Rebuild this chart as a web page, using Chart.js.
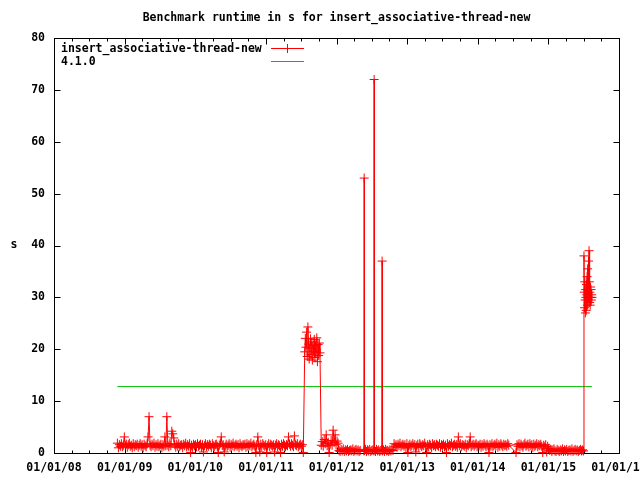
<!DOCTYPE html>
<html>
<head>
<meta charset="utf-8">
<script src="https://cdn.jsdelivr.net/npm/chart.js@4/dist/chart.umd.min.js"></script>
<style>
  html, body { margin: 0; padding: 0; background: #fff; }
</style>
</head>
<body>
<canvas id="chart" width="640" height="480"></canvas>
<script>
// run dates as fractional years, runtimes in s
const runDates = [
  // late 2008 - mid 2011
  2008.898, 2008.912, 2008.926, 2008.940, 2008.954, 2008.968, 2008.982, 2008.996, 2009.010, 2009.024,
  2009.038, 2009.052, 2009.066, 2009.080, 2009.094, 2009.108, 2009.122, 2009.136, 2009.150, 2009.164,
  2009.178, 2009.192, 2009.206, 2009.220, 2009.234, 2009.248, 2009.262, 2009.276, 2009.290, 2009.304,
  2009.318, 2009.332, 2009.346, 2009.360, 2009.374, 2009.388, 2009.402, 2009.416, 2009.430, 2009.444,
  2009.458, 2009.472, 2009.486, 2009.500, 2009.514, 2009.528, 2009.542, 2009.556, 2009.570, 2009.584,
  2009.598, 2009.612, 2009.626, 2009.640, 2009.654, 2009.668, 2009.682, 2009.696, 2009.710, 2009.724,
  2009.738, 2009.752, 2009.766, 2009.780, 2009.794, 2009.808, 2009.822, 2009.836, 2009.850, 2009.864,
  2009.878, 2009.892, 2009.906, 2009.920, 2009.934, 2009.948, 2009.962, 2009.976, 2009.990, 2010.004,
  2010.018, 2010.032, 2010.046, 2010.060, 2010.074, 2010.088, 2010.102, 2010.116, 2010.130, 2010.144,
  2010.158, 2010.172, 2010.186, 2010.200, 2010.214, 2010.228, 2010.242, 2010.256, 2010.270, 2010.284,
  2010.298, 2010.312, 2010.326, 2010.340, 2010.354, 2010.368, 2010.382, 2010.396, 2010.410, 2010.424,
  2010.438, 2010.452, 2010.466, 2010.480, 2010.494, 2010.508, 2010.522, 2010.536, 2010.550, 2010.564,
  2010.578, 2010.592, 2010.606, 2010.620, 2010.634, 2010.648, 2010.662, 2010.676, 2010.690, 2010.704,
  2010.718, 2010.732, 2010.746, 2010.760, 2010.774, 2010.788, 2010.802, 2010.816, 2010.830, 2010.844,
  2010.858, 2010.872, 2010.886, 2010.900, 2010.914, 2010.928, 2010.942, 2010.956, 2010.970, 2010.984,
  2010.998, 2011.012, 2011.026, 2011.040, 2011.054, 2011.068, 2011.082, 2011.096, 2011.110, 2011.124,
  2011.138, 2011.152, 2011.166, 2011.180, 2011.194, 2011.208, 2011.222, 2011.236, 2011.250, 2011.264,
  2011.278, 2011.292, 2011.306, 2011.320, 2011.334, 2011.348, 2011.362, 2011.376, 2011.390, 2011.404,
  2011.418, 2011.432, 2011.446, 2011.460, 2011.474, 2011.488, 2011.502, 2011.516, 2011.530,
  // slow period 2011
  2011.550, 2011.559, 2011.568, 2011.577, 2011.586, 2011.595, 2011.604, 2011.613, 2011.622, 2011.631,
  2011.640, 2011.649, 2011.658, 2011.667, 2011.676, 2011.685, 2011.694, 2011.703, 2011.712, 2011.721,
  2011.730, 2011.739, 2011.748, 2011.757, 2011.766,
  // late 2011
  2011.784, 2011.798, 2011.812, 2011.826, 2011.840, 2011.854, 2011.868, 2011.882, 2011.896, 2011.910,
  2011.924, 2011.938, 2011.952, 2011.966, 2011.980, 2011.994, 2012.008, 2012.022,
  // 2012 fast period with outliers
  2012.036, 2012.051, 2012.066, 2012.081, 2012.096, 2012.111, 2012.126, 2012.141, 2012.156, 2012.171,
  2012.186, 2012.201, 2012.216, 2012.231, 2012.246, 2012.261, 2012.276, 2012.291, 2012.306, 2012.321,
  2012.336,
  2012.388, 2012.392, 2012.396, 2012.410, 2012.425, 2012.440, 2012.455, 2012.470, 2012.485, 2012.500,
  2012.515, 2012.529, 2012.533, 2012.537, 2012.552, 2012.567, 2012.582, 2012.597, 2012.612, 2012.627,
  2012.642, 2012.646, 2012.650, 2012.665, 2012.680, 2012.695, 2012.710, 2012.725, 2012.740, 2012.755,
  2012.770, 2012.785, 2012.800,
  // late 2012 - mid 2014
  2012.815, 2012.829, 2012.843, 2012.857, 2012.871, 2012.885, 2012.899, 2012.913, 2012.927, 2012.941,
  2012.955, 2012.969, 2012.983, 2012.997, 2013.011, 2013.025, 2013.039, 2013.053, 2013.067, 2013.081,
  2013.095, 2013.109, 2013.123, 2013.137, 2013.151, 2013.165, 2013.179, 2013.193, 2013.207, 2013.221,
  2013.235, 2013.249, 2013.263, 2013.277, 2013.291, 2013.305, 2013.319, 2013.333, 2013.347, 2013.361,
  2013.375, 2013.389, 2013.403, 2013.417, 2013.431, 2013.445, 2013.459, 2013.473, 2013.487, 2013.501,
  2013.515, 2013.529, 2013.543, 2013.557, 2013.571, 2013.585, 2013.599, 2013.613, 2013.627, 2013.641,
  2013.655, 2013.669, 2013.683, 2013.697, 2013.711, 2013.725, 2013.739, 2013.753, 2013.767, 2013.781,
  2013.795, 2013.809, 2013.823, 2013.837, 2013.851, 2013.865, 2013.879, 2013.893, 2013.907, 2013.921,
  2013.935, 2013.949, 2013.963, 2013.977, 2013.991, 2014.005, 2014.019, 2014.033, 2014.047, 2014.061,
  2014.075, 2014.089, 2014.103, 2014.117, 2014.131, 2014.145, 2014.159, 2014.173, 2014.187, 2014.201,
  2014.215, 2014.229, 2014.243, 2014.257, 2014.271, 2014.285, 2014.299, 2014.313, 2014.327, 2014.341,
  2014.355, 2014.369, 2014.383, 2014.397, 2014.411, 2014.425, 2014.439,
  // late 2014
  2014.542, 2014.556, 2014.570, 2014.584, 2014.598, 2014.612, 2014.626, 2014.640, 2014.654, 2014.668,
  2014.682, 2014.696, 2014.710, 2014.724, 2014.738, 2014.752, 2014.766, 2014.780, 2014.794, 2014.808,
  2014.822, 2014.836, 2014.850, 2014.864, 2014.878, 2014.892, 2014.906, 2014.920, 2014.934, 2014.948,
  2014.962, 2014.976, 2014.990,
  // 2015 fast period
  2015.004, 2015.019, 2015.034, 2015.049, 2015.064, 2015.079, 2015.094, 2015.109, 2015.124, 2015.139,
  2015.154, 2015.169, 2015.184, 2015.199, 2015.214, 2015.229, 2015.244, 2015.259, 2015.274, 2015.289,
  2015.304, 2015.319, 2015.334, 2015.349, 2015.364, 2015.379, 2015.394, 2015.409, 2015.424, 2015.439,
  2015.454, 2015.469, 2015.484, 2015.498,
  // slow period 2015
  2015.504, 2015.508, 2015.512, 2015.516, 2015.520, 2015.524, 2015.528, 2015.532, 2015.536, 2015.540,
  2015.544, 2015.548, 2015.552, 2015.556, 2015.560, 2015.564, 2015.568, 2015.572, 2015.576, 2015.580,
  2015.584, 2015.588, 2015.592, 2015.596, 2015.600, 2015.604, 2015.608, 2015.612, 2015.617
];
const runValues = [
  1.9, 1.0, 1.6, 1.3, 1.8, 1.2, 1.5, 3.1, 1.4, 1.7,
  1.1, 1.6, 1.9, 1.3, 1.5, 1.0, 1.8, 1.2, 1.6, 1.4,
  1.7, 1.1, 1.5, 1.8, 1.3, 1.6, 1.0, 1.7, 1.4, 1.2,
  1.8, 3.1, 7.0, 1.5, 1.2, 1.7, 1.4, 1.9, 1.1, 1.6,
  1.3, 1.8, 1.2, 1.5, 1.7, 1.0, 1.6, 1.3, 3.1, 1.4,
  7.0, 1.5, 1.2, 1.8, 1.4, 4.2, 3.7, 2.9, 1.6, 1.1,
  1.7, 1.3, 1.8, 1.2, 1.5, 1.6, 1.0, 1.7, 1.4, 1.9,
  1.2, 1.6, 1.3, 1.8, 0.1, 1.5, 1.1, 1.7, 1.4, 1.6,
  1.2, 1.8, 1.3, 1.5, 1.7, 1.1, 1.6, 0.2, 1.4, 1.8,
  1.2, 1.6, 1.3, 1.7, 1.5, 1.0, 1.8, 1.4, 1.2, 1.6,
  1.7, 1.3, 0.1, 1.5, 1.8, 3.1, 1.4, 1.6, 0.2, 1.3,
  1.7, 1.2, 1.5, 1.8, 1.1, 1.6, 1.4, 1.9, 1.2, 1.5,
  1.7, 1.3, 1.6, 1.0, 1.8, 1.4, 1.2, 1.6, 1.5, 1.7,
  1.1, 1.8, 1.3, 1.6, 1.4, 1.9, 1.2, 1.5, 1.7, 1.3,
  0.1, 1.6, 3.1, 1.4, 0.2, 1.7, 1.2, 1.8, 1.5, 1.3,
  1.6, 0.1, 1.4, 1.8, 1.2, 1.7, 1.5, 1.3, 1.6, 0.2,
  1.5, 1.8, 1.2, 1.6, 1.4, 0.1, 1.7, 1.3, 1.8, 1.5,
  1.2, 1.6, 1.4, 3.1, 1.7, 1.3, 1.8, 1.5, 1.2, 3.3,
  1.6, 1.4, 1.8, 1.2, 1.5, 1.7, 1.3, 1.6, 0.1,

  19.5, 22.1, 20.4, 23.3, 18.6, 24.3, 21.0, 18.1, 20.2, 22.0,
  19.0, 21.4, 17.9, 20.8, 19.6, 21.9, 18.4, 20.6, 19.4, 22.2,
  17.6, 20.9, 18.8, 21.2, 19.3,

  1.5, 2.2, 1.3, 2.6, 1.8, 3.5, 1.4, 2.1, 0.1, 1.7,
  2.4, 1.5, 4.4, 2.0, 3.5, 1.6, 2.3, 1.9,

  0.5, 0.3, 0.7, 0.4, 0.8, 0.3, 0.6, 0.4, 0.7, 0.3,
  0.5, 0.6, 0.4, 0.8, 0.3, 0.5, 0.7, 0.4, 0.6, 0.3,
  0.5,
  0.4, 53.0, 0.5, 0.7, 0.3, 0.6, 0.4, 0.7, 0.3, 0.5,
  0.6, 0.4, 72.0, 0.6, 0.3, 0.7, 0.4, 0.6, 0.3, 0.5,
  0.7, 37.0, 0.4, 0.6, 0.3, 0.7, 0.4, 0.5, 0.3, 0.6,
  0.4, 0.7, 0.5,

  1.8, 1.3, 1.6, 1.1, 1.7, 1.4, 1.9, 1.2, 1.5, 1.7,
  1.3, 1.6, 1.0, 1.8, 0.1, 1.4, 1.7, 1.2, 1.5, 1.8,
  1.3, 1.6, 0.2, 1.4, 1.7, 1.1, 1.8, 1.5, 1.2, 1.6,
  1.4, 1.9, 1.3, 0.1, 1.6, 1.2, 1.7, 1.5, 1.0, 1.8,
  1.4, 1.6, 1.2, 1.7, 1.5, 1.3, 1.8, 1.1, 1.6, 1.4,
  1.7, 1.2, 1.5, 0.1, 1.8, 1.3, 1.6, 1.4, 1.9, 1.2,
  1.5, 1.7, 1.3, 1.6, 1.1, 3.1, 1.4, 1.8, 1.2, 1.6,
  1.5, 1.3, 1.7, 1.0, 1.6, 1.4, 1.8, 3.1, 1.2, 1.5,
  1.7, 1.3, 1.6, 1.8, 1.2, 1.5, 1.4, 1.7, 1.1, 1.6,
  1.3, 1.8, 1.5, 1.2, 1.7, 1.4, 0.1, 1.6, 1.3, 1.8,
  1.2, 1.5, 1.7, 1.4, 1.9, 1.1, 1.6, 1.3, 1.8, 1.5,
  1.2, 1.7, 1.4, 1.6, 1.3, 1.8, 1.5,

  0.1, 1.6, 1.3, 1.8, 1.2, 1.7, 1.4, 1.1, 1.6, 1.9,
  1.3, 1.5, 1.7, 1.2, 1.8, 1.4, 1.6, 1.1, 1.7, 1.3,
  1.5, 1.8, 1.2, 1.6, 1.4, 1.7, 1.3, 0.1, 1.5, 1.2,
  1.6, 0.2, 1.3,

  0.9, 0.5, 0.7, 0.3, 0.6, 0.8, 0.4, 0.3, 0.7, 0.5,
  0.3, 0.6, 0.4, 0.8, 0.3, 0.6, 0.4, 0.7, 0.3, 0.5,
  0.6, 0.4, 0.8, 0.3, 0.5, 0.7, 0.4, 0.6, 0.3, 0.5,
  0.7, 0.4, 0.6, 0.4,

  38.0, 31.0, 28.0, 33.0, 29.5, 27.0, 31.5, 30.0, 27.5, 32.5,
  30.5, 34.0, 28.5, 35.5, 31.5, 29.0, 37.0, 30.0, 39.0, 33.0,
  29.0, 31.0, 28.5, 32.0, 30.0, 31.5, 29.5, 30.5, 30.0
];

// reference version runtime
const refDates = [2008.898, 2015.617];
const refValues = [12.8, 12.8];

const seriesNames = ['insert_associative-thread-new', '4.1.0'];
const seriesColors = ['#ff0000', '#00c000'];
const titleText = 'Benchmark runtime in s for insert_associative-thread-new';
const yLabel = 's';
const yearRange = [2008, 2016];
const valueRange = [0, 80];

const FONT = 'bold 11.5px "DejaVu Sans Mono", "Liberation Mono", monospace';

// gnuplot style frame: border, inward ticks on all sides, title, key
const gnuplotFrame = {
    id: 'gnuplotFrame',
    beforeDatasetsDraw(chart) {
        const {ctx, chartArea: a, scales: {x, y}} = chart;
        const L = Math.round(a.left) + 0.5, R = Math.round(a.right) + 0.5;
        const T = Math.round(a.top) + 0.5, B = Math.round(a.bottom) + 0.5;
        ctx.save();
        ctx.strokeStyle = '#000';
        ctx.lineWidth = 1;
        ctx.beginPath();
        for (let q = yearRange[0] * 4; q <= yearRange[1] * 4; q++) {
            const px = Math.round(x.getPixelForValue(q / 4)) + 0.5;
            const len = q % 4 === 0 ? 6 : 3;
            ctx.moveTo(px, B); ctx.lineTo(px, B - len);
            ctx.moveTo(px, T); ctx.lineTo(px, T + len);
        }
        for (let v = valueRange[0]; v <= valueRange[1]; v += 10) {
            const py = Math.round(y.getPixelForValue(v)) + 0.5;
            ctx.moveTo(L, py); ctx.lineTo(L + 6, py);
            ctx.moveTo(R, py); ctx.lineTo(R - 6, py);
        }
        ctx.stroke();
        ctx.strokeRect(L, T, R - L, B - T);
        ctx.restore();
    },
    afterDraw(chart) {
        const {ctx, chartArea: a} = chart;
        ctx.save();
        ctx.font = FONT;
        ctx.fillStyle = '#000';
        ctx.textBaseline = 'middle';
        ctx.textAlign = 'center';
        ctx.fillText(titleText, (a.left + a.right) / 2, 18);
        ctx.fillText(yLabel, 14, 245);
        // key
        ctx.textAlign = 'left';
        chart.data.datasets.forEach((ds, i) => {
            const ky = 49 + i * 13;
            ctx.fillStyle = '#000';
            ctx.fillText(ds.label, 61, ky);
            ctx.strokeStyle = ds.borderColor;
            ctx.lineWidth = 1;
            ctx.beginPath();
            ctx.moveTo(271, Math.round(ky) - 0.5);
            ctx.lineTo(304, Math.round(ky) - 0.5);
            if (ds.pointRadius > 0) {
                ctx.moveTo(287.5, ky - 5);
                ctx.lineTo(287.5, ky + 4);
            }
            ctx.stroke();
        });
        ctx.restore();
    }
};

const config = {
    type: 'line',
    data: {
        datasets: [
            {
                label: seriesNames[0],
                data: runDates.map((d, i) => ({x: d, y: runValues[i]})),
                borderColor: seriesColors[0],
                backgroundColor: seriesColors[0],
                borderWidth: 1,
                pointStyle: 'cross',
                pointRadius: 4.5,
                pointBorderWidth: 1,
                tension: 0,
                clip: false
            },
            {
                label: seriesNames[1],
                data: refDates.map((d, i) => ({x: d, y: refValues[i]})),
                borderColor: seriesColors[1],
                backgroundColor: seriesColors[1],
                borderWidth: 1,
                pointRadius: 0,
                tension: 0
            }
        ]
    },
    options: {
        responsive: false,
        animation: false,
        devicePixelRatio: 1,
        layout: {
            padding: {top: 38, right: 21, left: 0, bottom: 0}
        },
        plugins: {
            legend: {display: false},
            title: {display: false},
            tooltip: {enabled: false}
        },
        scales: {
            x: {
                type: 'linear',
                min: yearRange[0],
                max: yearRange[1],
                grid: {display: false, drawTicks: false},
                border: {display: false},
                ticks: {
                    stepSize: 1,
                    maxRotation: 0,
                    autoSkip: false,
                    padding: 8,
                    color: '#000',
                    font: {family: '"DejaVu Sans Mono", monospace', size: 11.5, weight: 'bold'},
                    callback: v => Number.isInteger(v) ? '01/01/' + String(v).slice(2) : ''
                },
                afterFit: s => { s.height = 27; s.paddingLeft = 0; s.paddingRight = 0; }
            },
            y: {
                min: valueRange[0],
                max: valueRange[1],
                grid: {display: false, drawTicks: false},
                border: {display: false},
                ticks: {
                    stepSize: 10,
                    padding: 9,
                    color: '#000',
                    font: {family: '"DejaVu Sans Mono", monospace', size: 11.5, weight: 'bold'}
                },
                afterFit: s => { s.width = 54; s.paddingTop = 0; s.paddingBottom = 0; }
            }
        }
    },
    plugins: [gnuplotFrame]
};

const myChart = new Chart(document.getElementById('chart'), config);
</script>
</body>
</html>
